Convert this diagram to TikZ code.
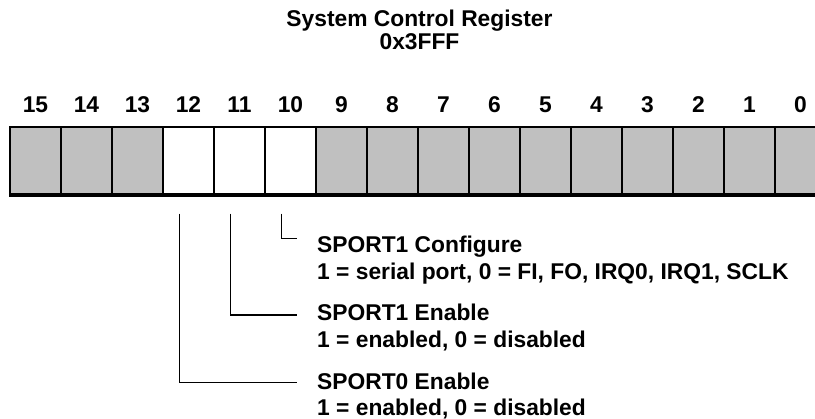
\documentclass[tikz,border=0pt]{standalone}
\usepackage{fontspec}
\setmainfont{Liberation Sans}
\usetikzlibrary{positioning}
\definecolor{reggray}{RGB}{192,192,192}

\begin{document}
\begin{tikzpicture}
[ x=1pt, y=-1pt,
bitcell/.style={rectangle, draw=black, line width=1.2pt, fill=reggray, 
minimum width=51pt, minimum height=67pt, inner sep=0pt}, 
bitnum/.style={font=\fontsize{22.8}{27}\selectfont\bfseries, 
inner sep=0pt, anchor=base}, 
note/.style={font=\fontsize{22.8}{27}\selectfont\bfseries, 
inner sep=0pt, anchor=base west}, 
leader/.style={draw=black, line width=1.3pt}, 
] 
\useasboundingbox (0,0) rectangle (815,419);
% title
\node[bitnum] (title) at (419.5,26.7) {System Control Register};
\node[bitnum] (addr) at (419.5,50) {0x3FFF};
% register bits
\foreach \i in {15,...,0} {
\pgfmathparse{(\i>9 && \i<13) ? "white" : "reggray"}
\edef\cellfill{\pgfmathresult}
\node[bitcell, fill=\cellfill] (b\i) at ({35.5+51*(15-\i)},160.5) {};
\node[bitnum] (n\i) at ({35.5+51*(15-\i)},112.7) {\i};
}
\draw[line width=4pt] (b15.south west) -- (b0.south east);
% descriptions
\node[note] (cfg) at (317,252.7) {SPORT1 Configure};
\node[note] (cfgval) at (317,280) {1 = serial port, 0 = FI, FO, IRQ0, IRQ1, SCLK};
\node[note] (en1) at (317,320.7) {SPORT1 Enable};
\node[note] (en1val) at (317,347.3) {1 = enabled, 0 = disabled};
\node[note] (en0) at (317,389.3) {SPORT0 Enable};
\node[note] (en0val) at (317,415.3) {1 = enabled, 0 = disabled};
% leaders
\coordinate (c10) at (297,238.3);
\coordinate (c11) at (297,315);
\coordinate (c12) at (297,382.7);
\draw[leader] ([shift={(17pt,-19pt)}]b10.south west) |- (c10);
\draw[leader] ([shift={(17pt,-19pt)}]b11.south west) |- (c11);
\draw[leader] ([shift={(17pt,-19pt)}]b12.south west) |- (c12);
\end{tikzpicture}
\end{document}
